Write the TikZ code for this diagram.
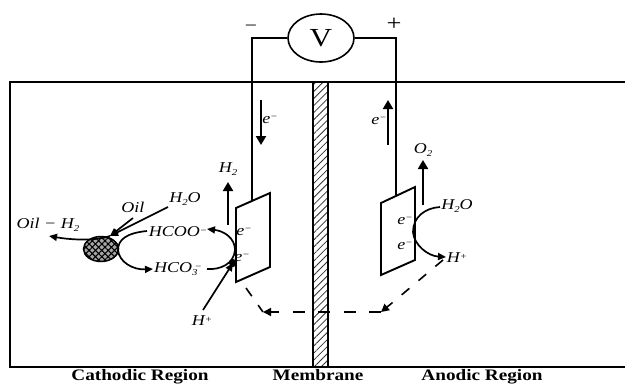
\documentclass[tikz,border=0pt]{standalone}
\usepackage{fontspec}
\setmainfont[FakeStretch=1.2]{Liberation Serif}
\usetikzlibrary{arrows.meta,patterns.meta,shapes.geometric}
\newcommand\upsc[1]{\raisebox{3.5pt}{\fontsize{9}{9}\selectfont #1}}
\newcommand\dnsc[1]{\raisebox{-2.5pt}{\fontsize{9}{9}\selectfont #1}}
\tikzset{
 wire/.style={line width=1.9pt},
 arr/.style={line width=2pt,-{Triangle[length=9pt,width=10pt]}},
 curveline/.style={line width=1.7pt},
 curvearr/.style={line width=1.7pt,-{Triangle[length=8pt,width=7pt]}},
 dashline/.style={line width=1.6pt},
 dasharr/.style={line width=1.6pt,-{Triangle[length=8pt,width=8pt]}},
 lab/.style={font=\fontsize{15}{16}\selectfont\itshape,inner sep=0pt},
 region/.style={font=\fontsize{16}{17}\selectfont\bfseries,inner sep=0pt,anchor=base},
 plate/.style={draw,line width=1.9pt,fill=white}
}
\begin{document}
\begin{tikzpicture}[x=1pt,y=-1pt]
\useasboundingbox (0,0) rectangle (625,384);
% tank
\draw[line width=1.4pt] (625,82) -- (10,82) -- (10,367) -- (625,367);
% membrane
\node[draw,line width=1.7pt,minimum width=15pt,minimum height=285pt,inner sep=0pt,pattern={Lines[angle=45,distance=5pt,line width=0.8pt]},pattern color=black!80] (mem) at (320.5,224.5) {};
% electrodes
\coordinate (lp1) at (236,208); \coordinate (lp2) at (270,193); \coordinate (lp3) at (270,267); \coordinate (lp4) at (236,282);
\coordinate (rp1) at (381,203); \coordinate (rp2) at (415,187); \coordinate (rp3) at (415,260); \coordinate (rp4) at (381,275);
\coordinate (lw) at (252,200); \coordinate (rw) at (396,195);
\coordinate (lc) at (252,38); \coordinate (rc) at (396,38);
% voltmeter
\node[draw,ellipse,line width=1.6pt,minimum width=66pt,minimum height=48pt,inner sep=0pt,font=\fontsize{26}{27}\selectfont] (v) at (321,38) {V};
\draw[wire] (v.west) -- (lc) -- (lw);
\draw[wire] (v.east) -- (rc) -- (rw);
\draw[plate] (lp1) -- (lp2) -- (lp3) -- (lp4) -- cycle;
\draw[plate] (rp1) -- (rp2) -- (rp3) -- (rp4) -- cycle;
\node[font=\fontsize{18}{19}\selectfont,inner sep=0pt] (minus) at (251,28) {−};
\node[font=\fontsize{22}{23}\selectfont,inner sep=0pt] (plus) at (394,24) {+};
% electron arrows
\node[lab] (el) at (270,120) {e\upsc{−}};
\node[lab] (er) at (379,121) {e\upsc{−}};
\coordinate (el1) at (261,100); \coordinate (el2) at (261,145);
\coordinate (er1) at (388,145); \coordinate (er2) at (388,100);
\draw[arr] (el1) -- (el2);
\draw[arr] (er1) -- (er2);
% gases
\node[lab] (h2) at (228,169) {H\dnsc{2}};
\node[lab] (o2) at (423,150) {O\dnsc{2}};
\coordinate (h2s) at (228,225); \coordinate (o2s) at (423,205);
\coordinate (h2e) at (228,182); \coordinate (o2e) at (423,160);
\draw[arr] (h2s) -- (h2e);
\draw[arr] (o2s) -- (o2e);
% oil droplet
\node[ellipse,draw,line width=1.5pt,minimum width=35pt,minimum height=25pt,inner sep=0pt,fill=black!35,postaction={pattern={Hatch[angle=45,distance=4.5pt,line width=1.1pt]}}] (oil) at (101,249) {};
\node[lab] (oill) at (133,207) {Oil};
\node[lab] (h2o) at (185,199) {H\dnsc{2}O};
\node[lab] (oilh) at (48,225) {Oil − H\dnsc{2}};
\node[lab] (hcoo) at (178,232) {HCOO\upsc{−}};
\node[lab] (hco3) at (178,269) {HCO\dnsc{3}\kern-3pt\upsc{−}};
\node[lab] (hp1) at (202,321) {H\upsc{+}};
\node[lab] (h2oa) at (457,206) {H\dnsc{2}O};
\node[lab] (hpa) at (457,258) {H\upsc{+}};
% cathode chemistry
\coordinate (oiltop) at (110,236);
\coordinate (mid) at (235,250);
\coordinate (plus1) at (233,263);
\draw[curvearr] (168,207) -- (oiltop);
\draw[curvearr] (133,218) -- (oiltop);
\draw[curvearr] (oiltop) .. controls (95,241) and (72,240) .. (49,236);
\draw[curvearr] (147,231) .. controls (126,233) and (118,240) .. (118,250) .. controls (119,262) and (133,270) .. (153,269);
\draw[curvearr] (mid) .. controls (235,238) and (224,231) .. (207,229);
\draw[curveline] (207,269) .. controls (220,270) and (234,264) .. (mid);
\fill (plus1) circle (4pt);
\draw[curvearr] (203,310) -- (plus1);
% anode chemistry
\draw[curveline] (440,207) .. controls (425,208) and (413,217) .. (413,232);
\draw[curvearr] (413,232) .. controls (414,245) and (428,256) .. (446,257);
% electrode labels
\node[lab] (e1) at (244,232) {e\upsc{−}};
\node[lab] (e2) at (242,258) {e\upsc{−}};
\node[lab] (e3) at (405,221) {e\upsc{−}};
\node[lab] (e4) at (405,246) {e\upsc{−}};
% dashed return
\coordinate (da) at (443,260);
\coordinate (db) at (392,303);
\coordinate (dc) at (381,312);
\coordinate (dd) at (277,312);
\coordinate (dl) at (263,312);
\coordinate (de) at (246,288);
\draw[dashline,dash pattern=on 10pt off 12pt] (da) -- (db);
\draw[dasharr] (db) -- (dc);
\draw[dashline,dash pattern=on 12pt off 13.5pt] (dc) -- (dd);
\draw[dasharr] (dd) -- (dl);
\draw[dashline,dash pattern=on 10pt off 11pt] (de) -- (dl);
% regions
\node[region] (rc1) at (140,380) {Cathodic Region};
\node[region] (rc2) at (318,380) {Membrane};
\node[region] (rc3) at (482,380) {Anodic Region};
\end{tikzpicture}
\end{document}
